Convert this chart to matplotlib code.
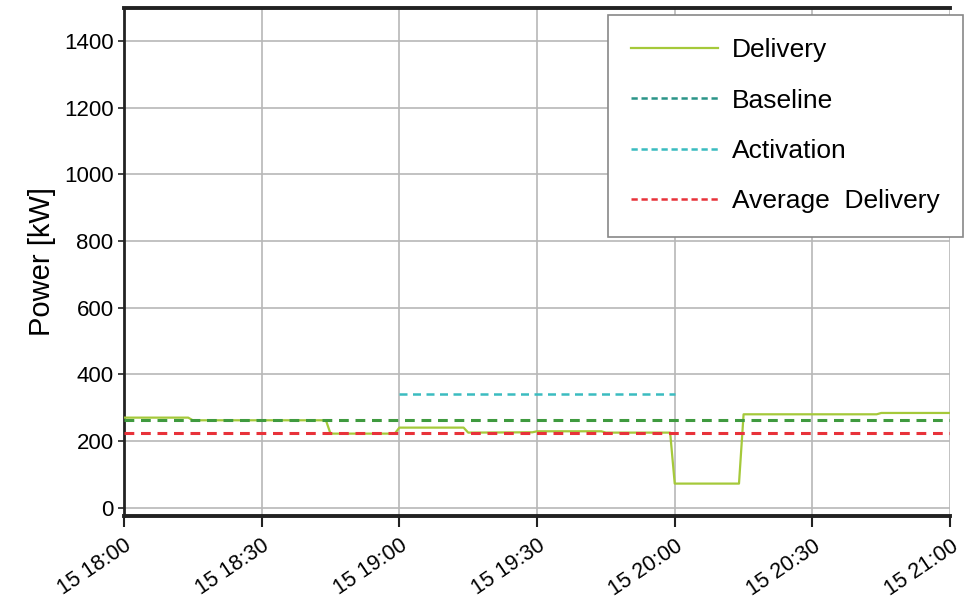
import numpy as np
import pandas as pd
import matplotlib
matplotlib.use("Agg")
import matplotlib.pyplot as plt
import matplotlib.dates as mdates
from matplotlib.lines import Line2D

plt.rcParams["font.family"] = ["Liberation Sans", "DejaVu Sans"]

# minutes after 15 18:00 and delivered power (kW)
deliv_min = [0, 14, 15, 44, 45, 59, 60, 74, 75, 89, 90, 104, 105, 119, 120, 134, 135, 164, 165, 180]
deliv_kw = [270, 270, 262, 262, 222, 222, 240, 240, 225, 226, 229, 229, 225, 225, 72, 72, 280, 280, 284, 284]

baseline_kw = 262
activation_kw = 341
activation_span = [60, 120]
avg_delivery_kw = 224

start = pd.Timestamp("2020-01-15 18:00")
t_deliv = start + pd.to_timedelta(deliv_min, unit="m")
t_full = [start, start + pd.Timedelta(minutes=180)]
t_act = start + pd.to_timedelta(activation_span, unit="m")

c_deliv = "#a5c93a"
c_base = "#3f9a3f"
c_base_leg = "#2a9488"
c_act = "#3bbcc0"
c_avg = "#e8323a"

fig = plt.figure(figsize=(9.64, 6.02), dpi=100)
ax = fig.add_axes([0.1286, 0.143, 0.857, 0.844])

dash = (0, (3.2, 2.2))
ax.plot(t_deliv, deliv_kw, color=c_deliv, lw=1.6, zorder=3)
ax.plot(t_full, [baseline_kw] * 2, color=c_base, lw=2.2, linestyle=dash, zorder=4)
ax.plot(t_act, [activation_kw] * 2, color=c_act, lw=1.8, linestyle=dash, zorder=4)
ax.plot(t_full, [avg_delivery_kw] * 2, color=c_avg, lw=2.2, linestyle=dash, zorder=4)

ax.set_xlim(t_full[0], t_full[1])
ax.set_ylim(-25, 1500)
ax.set_yticks(np.arange(0, 1401, 200))
ax.xaxis.set_major_locator(mdates.MinuteLocator(byminute=[0, 30]))
ax.xaxis.set_major_formatter(mdates.DateFormatter("%d %H:%M"))
plt.setp(ax.get_xticklabels(), rotation=34, ha="right", rotation_mode="anchor")
ax.tick_params(axis="x", labelsize=15.5, length=8, width=1.5, pad=6,
               direction="out", color="#222222")
ax.tick_params(axis="y", labelsize=16, length=4, width=1.2, color="#222222")
ax.set_ylabel("Power [kW]", fontsize=21, labelpad=6)

ax.grid(True, color="#b8b8b8", lw=1.2)
ax.set_axisbelow(True)
for s in ["top", "bottom"]:
    ax.spines[s].set_linewidth(2.8)
    ax.spines[s].set_color("#222222")
ax.spines["left"].set_linewidth(2)
ax.spines["left"].set_color("#222222")
ax.spines["right"].set_visible(False)

handles = [
    Line2D([], [], color=c_deliv, lw=1.6),
    Line2D([], [], color=c_base_leg, lw=1.8, linestyle=(0, (2.5, 1.5))),
    Line2D([], [], color=c_act, lw=1.8, linestyle=(0, (2.5, 1.5))),
    Line2D([], [], color=c_avg, lw=1.8, linestyle=(0, (2.5, 1.5))),
]
labels = ["Delivery", "Baseline", "Activation", "Average  Delivery"]
leg = ax.legend(handles, labels, loc="upper right", fontsize=19, handlelength=3.3,
                labelspacing=1.0, borderpad=0.88, handletextpad=0.5,
                fancybox=False, framealpha=1, edgecolor="#888888",
                bbox_to_anchor=(1.031, 1.012))
leg.get_frame().set_linewidth(1.2)

fig.savefig("out.png", dpi=100)
